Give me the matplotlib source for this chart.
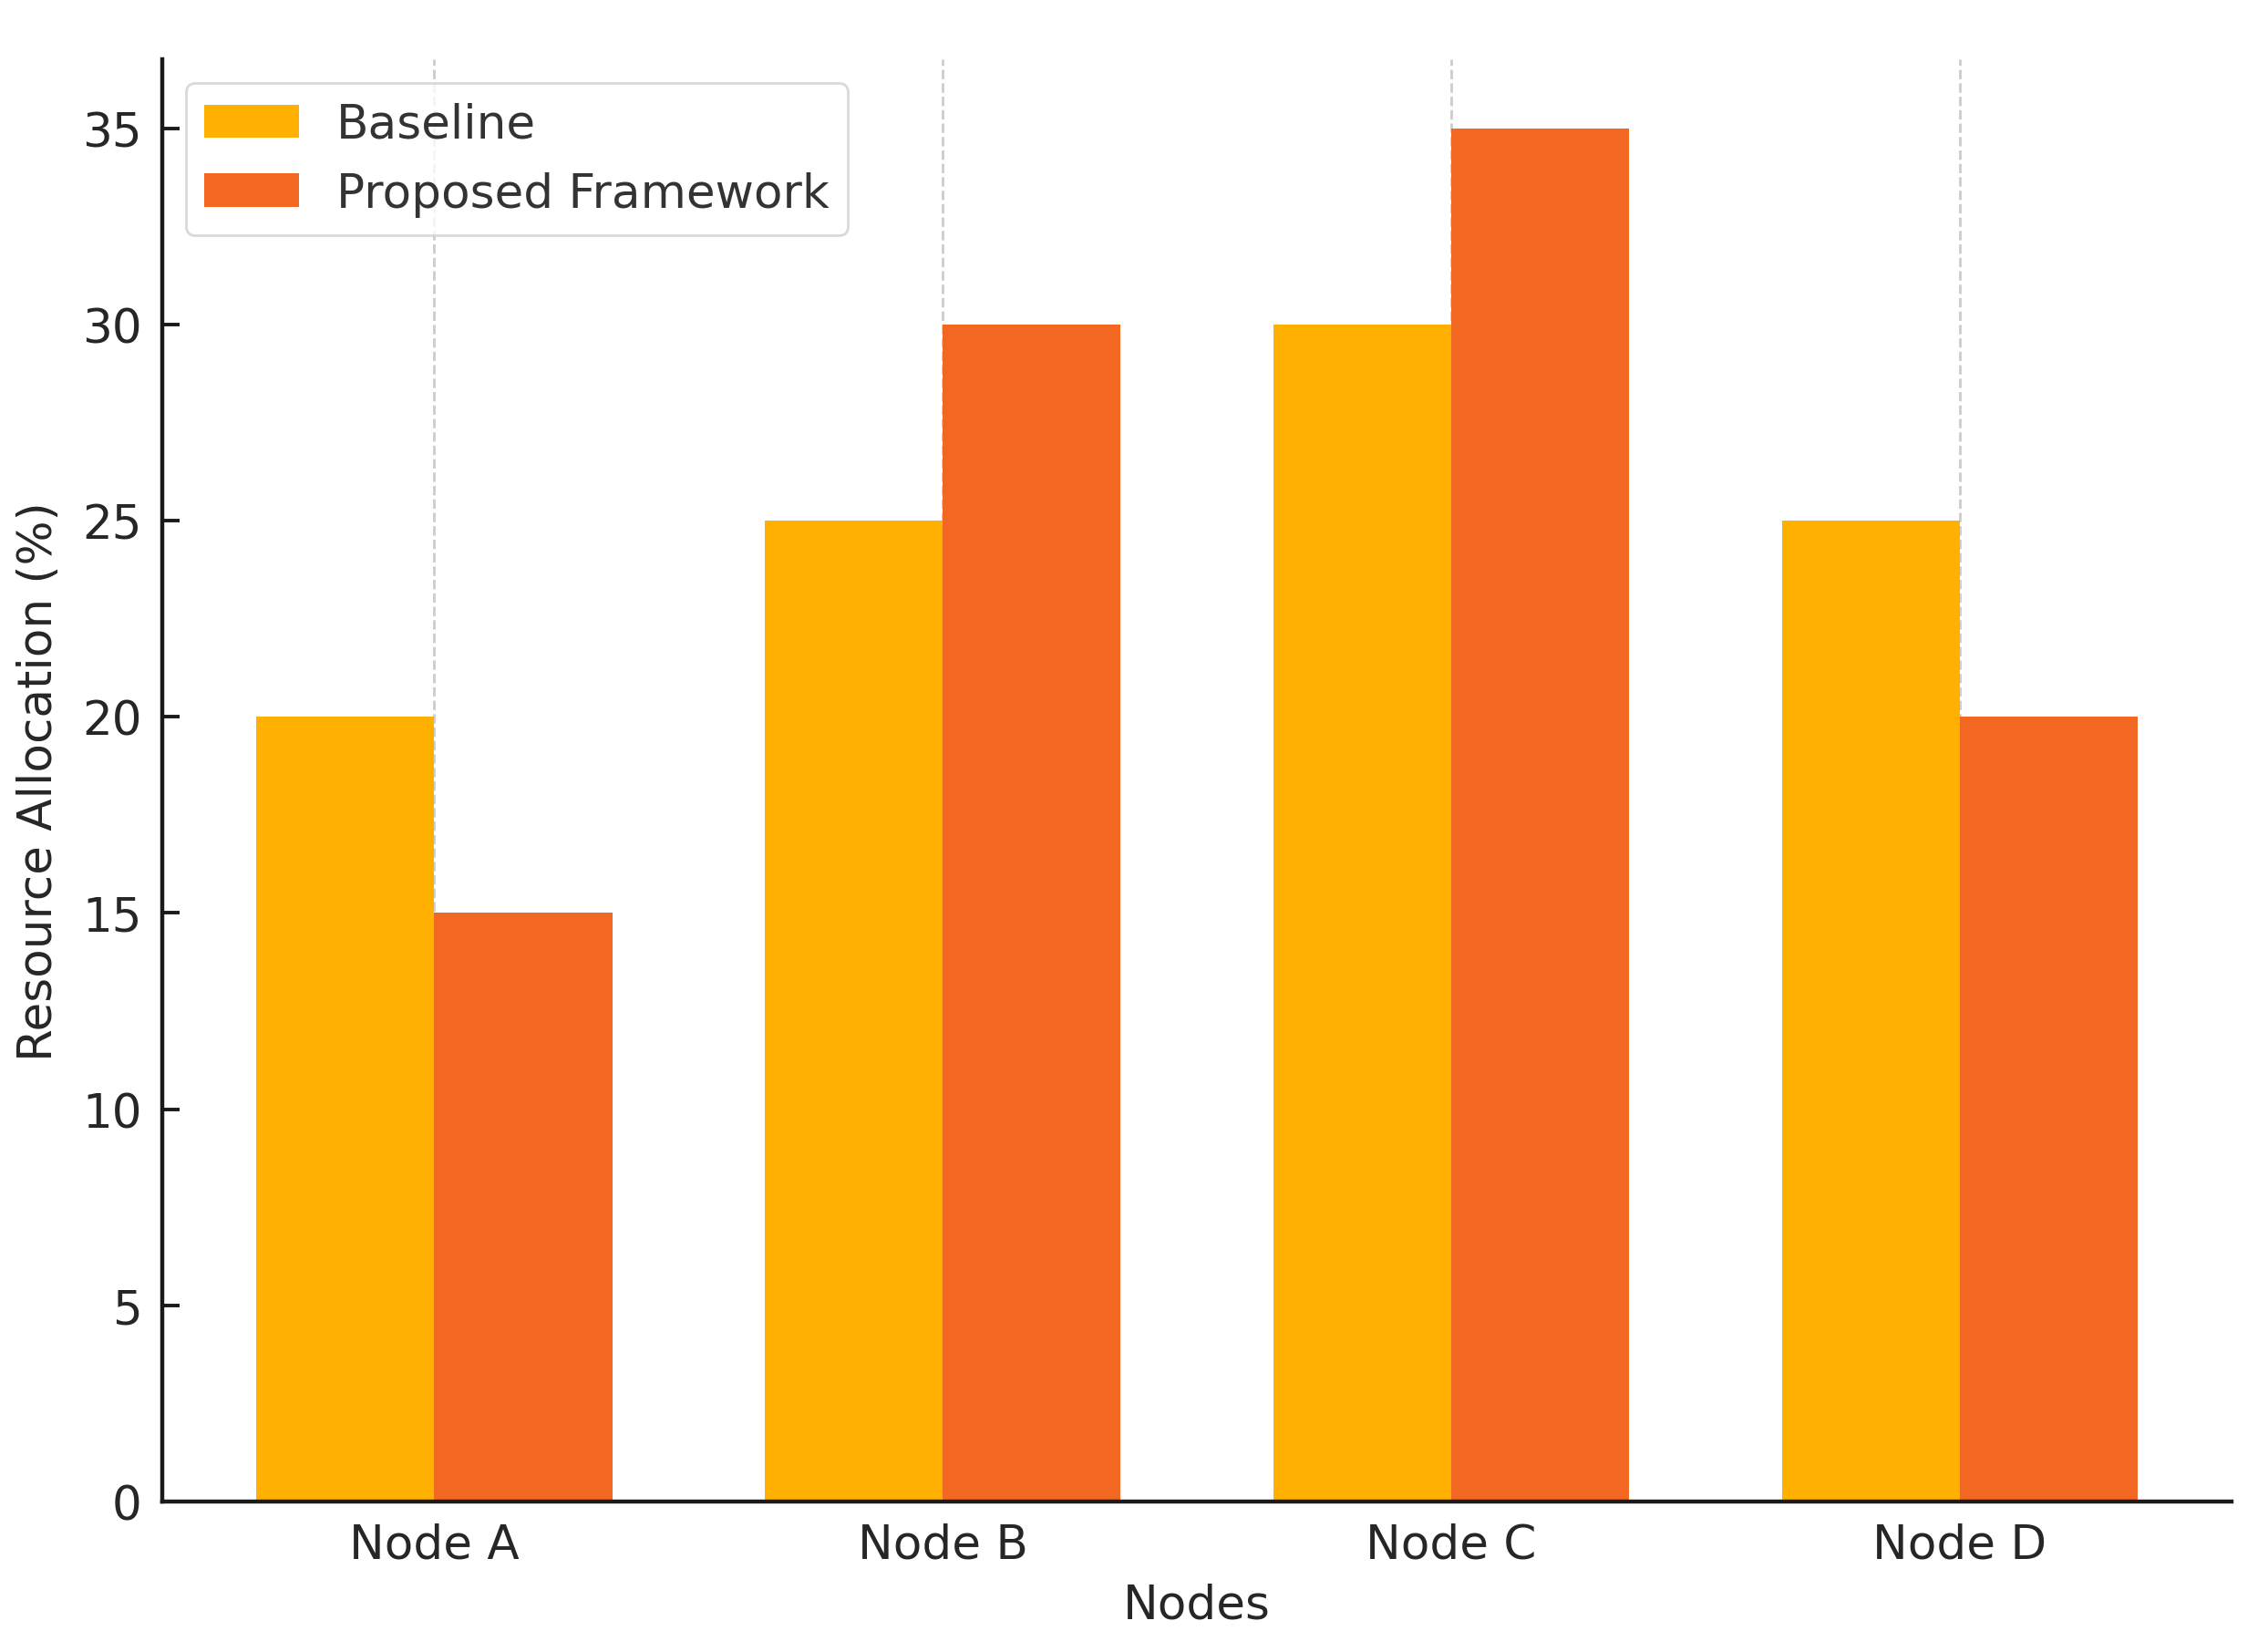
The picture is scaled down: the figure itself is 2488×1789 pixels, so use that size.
import matplotlib
matplotlib.use("Agg")
import matplotlib.pyplot as plt
import numpy as np

# Data
nodes = ["Node A", "Node B", "Node C", "Node D"]
baseline = [20, 25, 30, 25]
proposed = [15, 30, 35, 20]

BASELINE_COLOR = "#FFB000"
PROPOSED_COLOR = "#F26822"
FS = 18.6

plt.rcParams["font.family"] = "DejaVu Sans"
plt.rcParams["font.size"] = FS

fig, ax = plt.subplots(figsize=(12.44, 8.95), dpi=200)
fig.subplots_adjust(left=0.0715, right=0.984, top=0.963, bottom=0.0793)

x = np.arange(len(nodes))
width = 0.35

ax.bar(x - width / 2, baseline, width, color=BASELINE_COLOR, label="Baseline")
ax.bar(x + width / 2, proposed, width, color=PROPOSED_COLOR, label="Proposed Framework")

ax.set_xticks(x)
ax.set_xticklabels(nodes)
ax.set_xlabel("Nodes", color="#262626", labelpad=6)
ax.set_ylabel("Resource Allocation (%)", color="#262626", labelpad=8)

# only left and bottom spines
for side in ["top", "right"]:
    ax.spines[side].set_visible(False)
for side in ["left", "bottom"]:
    ax.spines[side].set_linewidth(1.6)
    ax.spines[side].set_color("#1a1a1a")

ax.tick_params(direction="in", length=7, width=1.4, colors="#1a1a1a",
               labelcolor="#262626", pad=8)

ax.grid(axis="x", linestyle="--", color="#cccccc", linewidth=1.0)
ax.set_axisbelow(True)

leg = ax.legend(loc="upper left", fontsize=FS, frameon=True, fancybox=True,
                edgecolor="#d0d0d0", handlelength=2.0, handleheight=0.7)
for t in leg.get_texts():
    t.set_color("#333333")

fig.savefig("out.png", dpi=200)
